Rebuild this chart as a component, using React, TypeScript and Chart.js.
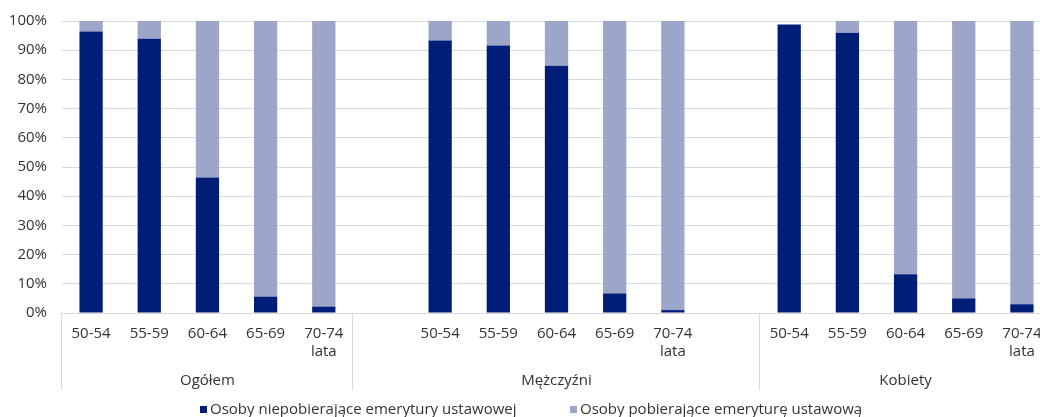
import { useEffect, useRef } from "react";
import { Chart, registerables } from "chart.js";

Chart.register(...registerables);

// ---- data ----
const categories: (string | string[])[] = [
  "50-54", "55-59", "60-64", "65-69", ["70-74", "lata"],
  "",
  "50-54", "55-59", "60-64", "65-69", ["70-74", "lata"],
  "",
  "50-54", "55-59", "60-64", "65-69", ["70-74", "lata"],
];

const groupLabels = ["Ogółem", "Mężczyźni", "Kobiety"];
const groupStarts = [0, 5, 12];
const groupEnds = [4, 11, 16];

const seriesLabels = [
  "Osoby niepobierające emerytury ustawowej",
  "Osoby pobierające emeryturę ustawową",
];

const notReceiving: (number | null)[] = [
  96.4, 93.9, 46.4, 5.6, 2.2,
  null,
  93.3, 91.6, 84.7, 6.7, 1.0,
  null,
  98.8, 96.0, 13.3, 5.0, 3.0,
];

const receiving: (number | null)[] = [
  3.6, 6.1, 53.6, 94.4, 97.8,
  null,
  6.7, 8.4, 15.3, 93.3, 99.0,
  null,
  null, 4.0, 86.7, 95.0, 97.0,
];

const yMin = 0;
const yMax = 100;
const yStep = 10;

const colors = ["#001e78", "#9ca6c9"];
const FONT = "'Open Sans', 'Noto Sans', sans-serif";
const TEXT = "#333333";
const GRID = "#d9d9d9";

const groupPlugin = {
  id: "groupsAndLegend",
  afterDraw(chart: any) {
    const { ctx, chartArea, scales } = chart;
    const x = scales.x;
    const slot = x.getPixelForValue(1) - x.getPixelForValue(0);
    ctx.save();
    ctx.strokeStyle = GRID;
    ctx.lineWidth = 1;
    ctx.fillStyle = TEXT;
    ctx.font = `15px ${FONT}`;
    ctx.textAlign = "center";
    ctx.textBaseline = "middle";
    groupStarts.forEach((s, i) => {
      const left = x.getPixelForValue(s) - slot / 2;
      const right = x.getPixelForValue(groupEnds[i]) + slot / 2;
      const px = Math.round(left) - 0.5;
      ctx.beginPath();
      ctx.moveTo(px, chartArea.bottom);
      ctx.lineTo(px, 390);
      ctx.stroke();
      ctx.fillText(groupLabels[i], (left + right) / 2, 381);
    });

    // legend
    const box = 7;
    const gap = 3;
    const ds = chart.data.datasets;
    const starts = [200, 570];
    const cy = 410;
    ctx.textAlign = "left";
    ds.forEach((d: any, i: number) => {
      const cx = starts[i];
      ctx.fillStyle = d.backgroundColor;
      ctx.fillRect(cx, Math.round(cy - box / 2) - 1, box, box);
      ctx.fillStyle = TEXT;
      ctx.fillText(d.label, cx + box + gap, cy);
    });
    ctx.restore();
  },
};

export default function App() {
  const ref = useRef<HTMLCanvasElement | null>(null);

  useEffect(() => {
    if (!ref.current) return;
    const chart = new Chart(ref.current, {
      type: "bar",
      data: {
        labels: categories,
        datasets: [
          {
            label: seriesLabels[0],
            data: notReceiving,
            backgroundColor: colors[0],
            barPercentage: 0.4,
            categoryPercentage: 1,
          },
          {
            label: seriesLabels[1],
            data: receiving,
            backgroundColor: colors[1],
            barPercentage: 0.4,
            categoryPercentage: 1,
          },
        ],
      },
      options: {
        responsive: false,
        animation: false,
        devicePixelRatio: 1,
        layout: { padding: { left: 0, right: 9, top: 21, bottom: 54 } },
        plugins: {
          legend: { display: false },
          tooltip: { enabled: false },
        },
        scales: {
          x: {
            stacked: true,
            grid: { display: false, drawTicks: false },
            border: { display: false },
            ticks: {
              color: TEXT,
              font: { family: FONT, size: 15, lineHeight: 1.2 },
              padding: 12,
              maxRotation: 0,
              autoSkip: false,
            },
            afterFit: (s: any) => {
              s.height = 50;
              s.paddingLeft = 0;
              s.paddingRight = 0;
            },
          },
          y: {
            stacked: true,
            min: yMin,
            max: yMax,
            grid: { color: GRID, drawTicks: false },
            border: { display: false },
            ticks: {
              stepSize: yStep,
              color: TEXT,
              font: { family: FONT, size: 15 },
              padding: 15,
              callback: (v: any) => `${v}%`,
            },
            afterFit: (s: any) => {
              s.width = 62;
              s.paddingTop = 0;
              s.paddingBottom = 0;
            },
          },
        },
      },
      plugins: [groupPlugin],
    });
    return () => chart.destroy();
  }, []);

  return (
    <div
      style={{
        position: "absolute",
        left: 0,
        top: 0,
        width: 1040,
        height: 417,
        overflow: "hidden",
        background: "#fff",
      }}
    >
      <canvas ref={ref} width={1060} height={417} style={{ width: 1060, height: 417 }} />
    </div>
  );
}
